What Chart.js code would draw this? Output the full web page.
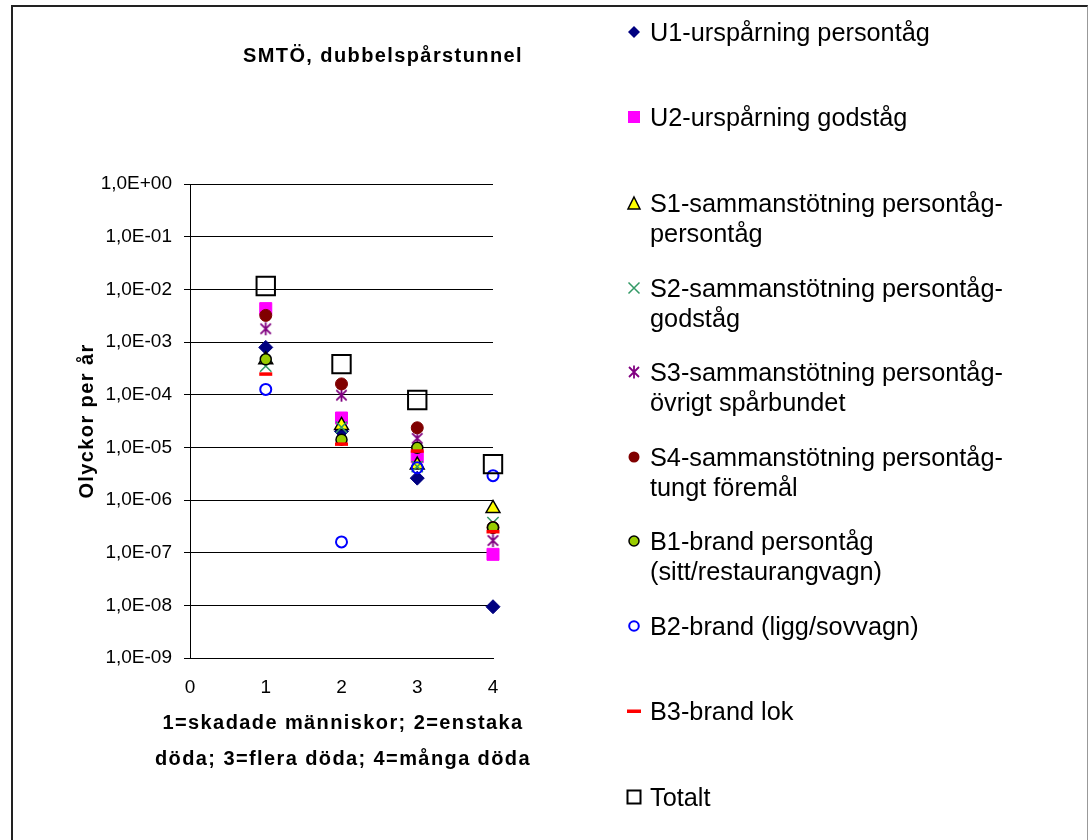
<!DOCTYPE html>
<html>
<head>
<meta charset="utf-8">
<script src="https://cdn.jsdelivr.net/npm/chart.js@4/dist/chart.umd.min.js"></script>
<style>
html,body{margin:0;padding:0;width:1089px;height:840px;overflow:hidden;background:#fff;font-family:"Liberation Sans",Arial,sans-serif;color:#000;}
#frame{position:absolute;left:11px;top:5px;width:1077px;height:860px;border-left:2px solid #222;border-top:2px solid #222;border-right:1px solid #999;box-sizing:border-box;}
#wrap{position:absolute;left:0;top:0;width:1089px;height:840px;}
.bt{position:absolute;font-weight:bold;font-size:20px;letter-spacing:1.4px;white-space:nowrap;text-align:center;}
#title{left:183px;width:400px;top:43px;line-height:24px;}
#ytitle{left:-114px;width:400px;top:409px;line-height:24px;transform:rotate(-90deg);transform-origin:200px 12px;}
#xtitle{left:143px;width:400px;top:704px;line-height:36px;}
.li{position:absolute;left:650px;font-size:25.3px;line-height:30px;white-space:pre;}
.mk{position:absolute;left:626px;width:16px;height:16px;}
</style>
</head>
<body>
<div id="frame"></div>
<div id="wrap"><canvas id="c"></canvas></div>
<div id="title" class="bt">SMTÖ, dubbelspårstunnel</div>
<div id="ytitle" class="bt">Olyckor per år</div>
<div id="xtitle" class="bt">1=skadade människor; 2=enstaka<br>döda; 3=flera döda; 4=många döda</div>
<div id="legend"></div>
<script>
// ---- data ----
const categories = [1, 2, 3, 4];
const seriesNames = [
  "U1-urspårning persontåg",
  "U2-urspårning godståg",
  "S1-sammanstötning persontåg-\npersontåg",
  "S2-sammanstötning persontåg-\ngodståg",
  "S3-sammanstötning persontåg-\növrigt spårbundet",
  "S4-sammanstötning persontåg-\ntungt föremål",
  "B1-brand persontåg\n(sitt/restaurangvagn)",
  "B2-brand (ligg/sovvagn)",
  "B3-brand lok",
  "Totalt"
];
const U1 = [7.9e-4, 2.0e-5, 2.6e-6, 9.4e-9];
const U2 = [4.3e-3, 3.6e-5, 6.6e-6, 9.3e-8];
const S1 = [4.6e-4, 2.6e-5, 4.6e-6, 6.9e-7];
const S2 = [3.5e-4, 2.4e-5, 4.3e-6, 3.7e-7];
const S3 = [1.78e-3, 9.8e-5, 1.48e-5, 1.7e-7];
const S4 = [3.2e-3, 1.6e-4, 2.35e-5, 3.0e-7];
const B1 = [4.7e-4, 1.4e-5, 9.8e-6, 3.0e-7];
const B2 = [1.26e-4, 1.6e-7, 4.1e-6, 2.9e-6];
const B3 = [2.46e-4, 1.15e-5, 8.5e-6, 2.5e-7];
const Totalt = [1.16e-2, 3.8e-4, 7.9e-5, 4.8e-6];
const yTicks = [1e0, 1e-1, 1e-2, 1e-3, 1e-4, 1e-5, 1e-6, 1e-7, 1e-8, 1e-9];
const xTicks = [0, 1, 2, 3, 4];

const seriesValues = [U1, U2, S1, S2, S3, S4, B1, B2, B3, Totalt];

// asterisk marker for S3
function asterisk(size, color, lw) {
  const c = document.createElement('canvas');
  c.width = size; c.height = size;
  const g = c.getContext('2d');
  g.strokeStyle = color; g.lineWidth = lw; g.lineCap = 'butt';
  const m = size / 2, r = size / 2 - 1;
  g.beginPath();
  g.moveTo(m, m - r); g.lineTo(m, m + r);
  g.moveTo(m - r * 0.8, m - r * 0.8); g.lineTo(m + r * 0.8, m + r * 0.8);
  g.moveTo(m + r * 0.8, m - r * 0.8); g.lineTo(m - r * 0.8, m + r * 0.8);
  g.stroke();
  return c;
}

const styles = [
  {pointStyle: 'rectRot', radius: 7, bg: '#000080', bc: '#000080', bw: 1},
  {pointStyle: 'rect', radius: 8.5, bg: '#FF00FF', bc: '#FF00FF', bw: 1},
  {pointStyle: 'triangle', radius: 8, bg: '#FFFF00', bc: '#000000', bw: 1.5},
  {pointStyle: 'crossRot', radius: 8, bg: '#339966', bc: '#339966', bw: 1.5},
  {pointStyle: asterisk(15, '#800080', 1.8), radius: 7, bg: '#800080', bc: '#800080', bw: 1},
  {pointStyle: 'circle', radius: 6, bg: '#800000', bc: '#800000', bw: 1},
  {pointStyle: 'circle', radius: 5.5, bg: '#99CC00', bc: '#000000', bw: 1.5},
  {pointStyle: 'circle', radius: 5.5, bg: 'rgba(0,0,0,0)', bc: '#0000FF', bw: 2},
  {pointStyle: 'line', radius: 6.5, bg: '#FF0000', bc: '#FF0000', bw: 3.5},
  {pointStyle: 'rect', radius: 13, bg: 'rgba(0,0,0,0)', bc: '#000000', bw: 2}
];

function fmt(v) {
  const e = Math.round(Math.log10(v));
  const m = v / Math.pow(10, e);
  const s = e < 0 ? '-' : '+';
  const a = String(Math.abs(e)).padStart(2, '0');
  return m.toFixed(1).replace('.', ',') + 'E' + s + a;
}

const FONT = '"Liberation Sans", Arial, sans-serif';

const datasets = seriesValues.map((vals, i) => ({
  label: seriesNames[i].replace('\n', ''),
  data: categories.map((x, j) => ({x: x, y: vals[j]})),
  showLine: false,
  clip: false,
  pointStyle: styles[i].pointStyle,
  pointRadius: styles[i].radius,
  pointHoverRadius: styles[i].radius,
  pointBackgroundColor: styles[i].bg,
  pointBorderColor: styles[i].bc,
  pointBorderWidth: styles[i].bw,
  backgroundColor: styles[i].bg,
  borderColor: styles[i].bc,
  order: seriesValues.length - 1 - i
}));

new Chart(document.getElementById('c'), {
  type: 'scatter',
  data: {datasets: datasets},
  options: {
    responsive: true,
    maintainAspectRatio: false,
    animation: false,
    events: [],
    layout: {padding: {left: 0, top: 184, right: 596, bottom: 122}},
    plugins: {legend: {display: false}, tooltip: {enabled: false}, title: {display: false}},
    scales: {
      x: {
        type: 'linear', min: 0, max: 4,
        afterBuildTicks: s => { s.ticks = xTicks.map(v => ({value: v})); },
        afterFit: s => { s.height = 60; },
        ticks: {font: {family: FONT, size: 19}, color: '#000', padding: 18, autoSkip: false},
        grid: {display: false, drawTicks: false},
        border: {display: true, color: '#000', width: 1}
      },
      y: {
        type: 'logarithmic', min: 1e-9, max: 1,
        afterBuildTicks: s => { s.ticks = yTicks.map(v => ({value: v})); },
        afterFit: s => { s.width = 190; },
        ticks: {font: {family: FONT, size: 19}, color: '#000', padding: 12, autoSkip: false,
                callback: v => fmt(v)},
        grid: {color: '#000', lineWidth: 1, tickLength: 6, drawTicks: true},
        border: {display: true, color: '#000', width: 1}
      }
    }
  }
});

// ---- legend (HTML) ----
const legendY = [32, 117, 203, 288, 372, 457, 541, 626, 711, 797];
const svgMarkers = [
  '<polygon points="8,2 14,8 8,14 2,8" fill="#000080"/>',
  '<rect x="2" y="2" width="12" height="12" fill="#FF00FF"/>',
  '<polygon points="8,2 14,14 2,14" fill="#FFFF00" stroke="#000" stroke-width="1.5"/>',
  '<path d="M2.5,2.5 L13.5,13.5 M13.5,2.5 L2.5,13.5" stroke="#339966" stroke-width="1.5"/>',
  '<path d="M8,1.5 L8,14.5 M3,3 L13,13 M13,3 L3,13" stroke="#800080" stroke-width="1.8"/>',
  '<circle cx="8" cy="8" r="5.5" fill="#800000"/>',
  '<circle cx="8" cy="8" r="5" fill="#99CC00" stroke="#000" stroke-width="1.5"/>',
  '<circle cx="8" cy="8" r="4.8" fill="none" stroke="#0000FF" stroke-width="2"/>',
  '<rect x="1" y="6.5" width="14" height="3.5" fill="#FF0000"/>',
  '<rect x="1.5" y="1.5" width="13" height="13" fill="none" stroke="#000" stroke-width="2"/>'
];
const lg = document.getElementById('legend');
seriesNames.forEach((n, i) => {
  const t = document.createElement('div');
  t.className = 'li';
  t.style.top = (legendY[i] - 15) + 'px';
  t.textContent = n;
  lg.appendChild(t);
  const m = document.createElement('div');
  m.className = 'mk';
  m.style.top = (legendY[i] - 8) + 'px';
  m.innerHTML = '<svg width="16" height="16" viewBox="0 0 16 16">' + svgMarkers[i] + '</svg>';
  lg.appendChild(m);
});
</script>
</body>
</html>
